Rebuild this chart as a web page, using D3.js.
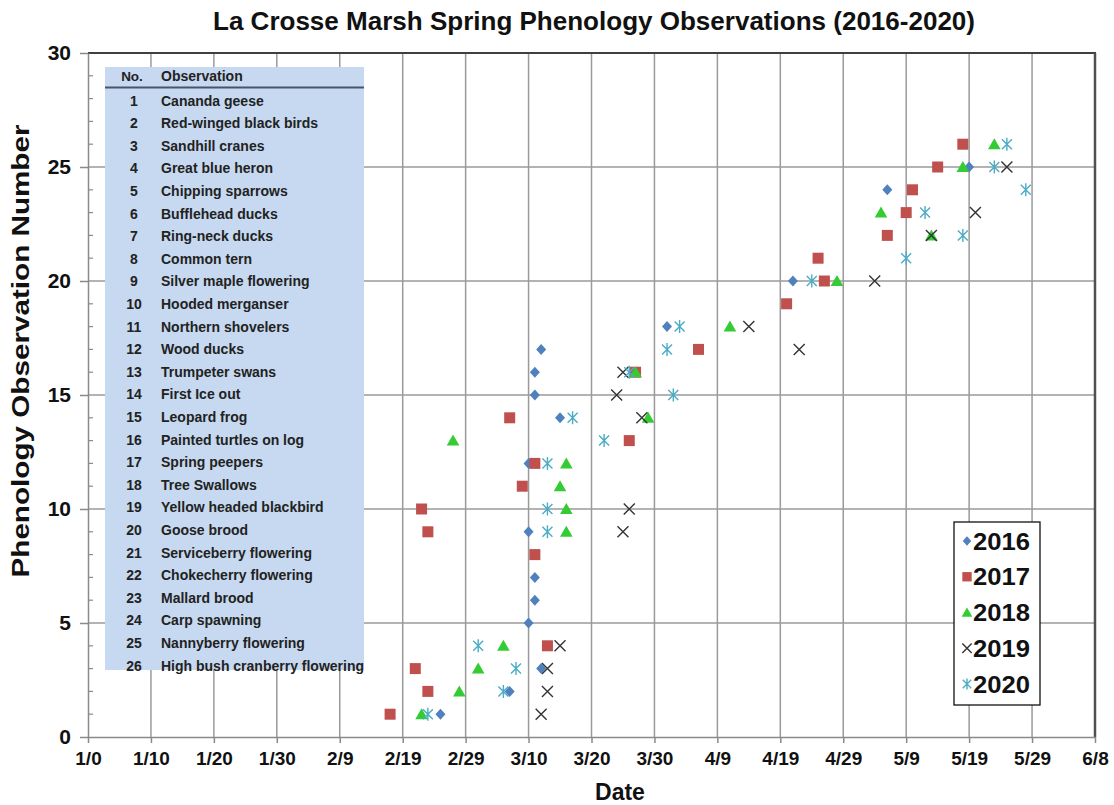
<!DOCTYPE html>
<html>
<head>
<meta charset="utf-8">
<script src="https://cdn.jsdelivr.net/npm/d3@7"></script>
<style>
  html, body { margin: 0; padding: 0; background: #ffffff; }
  svg { display: block; }
  text { font-family: "Liberation Sans", Arial, sans-serif; }
</style>
</head>
<body>
<svg id="chart" width="1114" height="805"></svg>
<script>
// ---------- data ----------
const chartTitle = "La Crosse Marsh Spring Phenology Observations (2016-2020)";
const xTitle = "Date";
const yTitle = "Phenology Observation Number";

const observationNumbers = [1,2,3,4,5,6,7,8,9,10,11,12,13,14,15,16,17,18,19,20,21,22,23,24,25,26];
const observationNames = [
  "Cananda geese", "Red-winged black birds", "Sandhill cranes", "Great blue heron",
  "Chipping sparrows", "Bufflehead ducks", "Ring-neck ducks", "Common tern",
  "Silver maple flowering", "Hooded merganser", "Northern shovelers", "Wood ducks",
  "Trumpeter swans", "First Ice out", "Leopard frog", "Painted turtles on log",
  "Spring peepers", "Tree Swallows", "Yellow headed blackbird", "Goose brood",
  "Serviceberry flowering", "Chokecherry flowering", "Mallard brood", "Carp spawning",
  "Nannyberry flowering", "High bush cranberry flowering"
];

// day of year (1/0 = day 0) for each observation number 1..26 (null = not observed)
const days2016 = [56,67,72,null,70,71,71,null,70,null,null,70,null,75,71,71,72,92,null,112,null,null,null,127,140,null];
const days2017 = [48,54,52,73,null,null,null,71,54,53,69,71,86,67,null,87,97,null,111,117,116,127,130,131,135,139];
const days2018 = [53,59,62,66,null,null,null,null,76,76,75,76,58,89,null,87,null,102,null,119,null,134,126,null,139,144];
const days2019 = [72,73,73,75,null,null,null,null,85,86,null,null,null,88,84,85,113,105,null,125,null,134,141,null,146,null];
const days2020 = [54,66,68,62,null,null,null,null,73,73,null,73,82,77,93,86,92,94,null,115,130,139,133,149,144,146];

const seriesNames = ["2016", "2017", "2018", "2019", "2020"];

const xTickValues = [0,10,20,30,40,50,60,70,80,90,100,110,120,130,140,150,160];
const xTickLabels = ["1/0","1/10","1/20","1/30","2/9","2/19","2/29","3/10","3/20","3/30","4/9","4/19","4/29","5/9","5/19","5/29","6/8"];
const yTickValues = [0,5,10,15,20,25,30];

// ---------- layout / style ----------
const L = 88, R = 1095, T = 53, B = 737;
const colors = { "2016": "#4f81bd", "2017": "#c0504d", "2018": "#33cc33", "2019": "#333333", "2020": "#4bacc6" };
const shapes = { "2016": "diamond", "2017": "square", "2018": "triangle", "2019": "x", "2020": "star" };

const svg = d3.select("#chart");
const x = d3.scaleLinear().domain([0, 160]).range([L, R]);
const y = d3.scaleLinear().domain([0, 30]).range([B, T]);

// gridlines
const grid = svg.append("g");
grid.selectAll("line.v").data(xTickValues.filter(d => d > 0 && d < 160)).join("line")
  .attr("x1", d => x(d)).attr("x2", d => x(d)).attr("y1", T).attr("y2", B)
  .attr("stroke", "#9a9a9a").attr("stroke-width", 1.5);
grid.selectAll("line.h").data(yTickValues.filter(d => d > 0 && d < 30)).join("line")
  .attr("x1", L).attr("x2", R).attr("y1", d => y(d)).attr("y2", d => y(d))
  .attr("stroke", "#9a9a9a").attr("stroke-width", 1.5);

// border top / right
svg.append("line").attr("x1", L).attr("x2", R + 1).attr("y1", T).attr("y2", T).attr("stroke", "#404040").attr("stroke-width", 2);
svg.append("line").attr("x1", R).attr("x2", R).attr("y1", T).attr("y2", B).attr("stroke", "#505050").attr("stroke-width", 2.5);

// x axis
const xAxis = d3.axisBottom(x).tickValues(xTickValues)
  .tickFormat((d, i) => xTickLabels[i]).tickSize(6).tickSizeOuter(0).tickPadding(9);
const gx = svg.append("g").attr("transform", `translate(0,${B})`).call(xAxis);
gx.select(".domain").attr("stroke", "#8a8a8a").attr("stroke-width", 1.5);
gx.selectAll(".tick line").attr("stroke", "#8a8a8a").attr("stroke-width", 1.5);
gx.selectAll(".tick text").attr("font-size", 19).attr("font-weight", "bold").attr("fill", "#111")
  .attr("font-family", "'Liberation Sans', Arial, sans-serif");

// y axis
const yAxis = d3.axisLeft(y).tickValues(yTickValues).tickSize(8).tickSizeOuter(0).tickPadding(9);
const gy = svg.append("g").attr("transform", `translate(${L},0)`).call(yAxis);
gy.select(".domain").attr("stroke", "#8a8a8a").attr("stroke-width", 1.5);
gy.selectAll(".tick line").attr("stroke", "#8a8a8a").attr("stroke-width", 1.5);
gy.selectAll(".tick text").attr("font-size", 21).attr("font-weight", "bold").attr("fill", "#111")
  .attr("font-family", "'Liberation Sans', Arial, sans-serif");
// minor ticks (inside)
svg.append("g").selectAll("line").data(d3.range(1, 30).filter(d => d % 5 !== 0)).join("line")
  .attr("x1", L).attr("x2", L + 5).attr("y1", d => y(d)).attr("y2", d => y(d))
  .attr("stroke", "#8a8a8a").attr("stroke-width", 1.2);

// table of observations
const tbl = svg.append("g");
tbl.append("rect").attr("x", 105).attr("y", 67).attr("width", 259).attr("height", 603).attr("fill", "#c6d9f0");
tbl.append("line").attr("x1", 105).attr("x2", 364).attr("y1", 87.5).attr("y2", 87.5).attr("stroke", "#46566a").attr("stroke-width", 2);
tbl.append("text").attr("x", 132).attr("y", 81).attr("text-anchor", "middle").attr("font-size", 13.5).attr("font-weight", "bold").attr("fill", "#222").text("No.");
tbl.append("text").attr("x", 161).attr("y", 81).attr("font-size", 14).attr("font-weight", "bold").attr("fill", "#222").text("Observation");
const rowY = d3.scaleLinear().domain([1, 26]).range([100.7, 665.5]);
const rows = tbl.selectAll("g.row").data(observationNumbers).join("g");
rows.append("text").attr("x", 134).attr("y", d => rowY(d) + 5).attr("text-anchor", "middle")
  .attr("font-size", 14).attr("font-weight", "bold").attr("fill", "#222").text(d => d);
rows.append("text").attr("x", 161).attr("y", d => rowY(d) + 5)
  .attr("font-size", 14).attr("font-weight", "bold").attr("fill", "#222").text((d, i) => observationNames[i]);

// marker drawer
function drawMarker(g, shape, color, s) {
  if (shape === "diamond") {
    g.append("path").attr("d", `M0,${-5.5*s}L${5*s},0L0,${5.5*s}L${-5*s},0Z`).attr("fill", color);
  } else if (shape === "square") {
    g.append("rect").attr("x", -5.5*s).attr("y", -5.5*s).attr("width", 11*s).attr("height", 11*s).attr("fill", color);
  } else if (shape === "triangle") {
    g.append("path").attr("d", `M0,${-6*s}L${6.3*s},${5*s}L${-6.3*s},${5*s}Z`).attr("fill", color);
  } else if (shape === "x") {
    const h = 5.5*s;
    g.append("path").attr("d", `M${-h},${-h}L${h},${h}M${-h},${h}L${h},${-h}`).attr("stroke", color).attr("stroke-width", 1.4).attr("fill", "none");
  } else if (shape === "star") {
    const h = 5*s, v = 6.5*s;
    g.append("path").attr("d", `M${-h},${-h}L${h},${h}M${-h},${h}L${h},${-h}M0,${-v}L0,${v}`).attr("stroke", color).attr("stroke-width", 1.4).attr("fill", "none");
  }
}

// series
const allDays = { "2016": days2016, "2017": days2017, "2018": days2018, "2019": days2019, "2020": days2020 };
seriesNames.forEach(name => {
  const pts = observationNumbers.map((n, i) => ({ n, day: allDays[name][i] })).filter(p => p.day !== null);
  const g = svg.append("g");
  g.selectAll("g").data(pts).join("g")
    .attr("transform", p => `translate(${x(p.day)},${y(p.n)})`)
    .each(function () { drawMarker(d3.select(this), shapes[name], colors[name], 1); });
});

// legend
const lg = svg.append("g");
lg.append("rect").attr("x", 954).attr("y", 522).attr("width", 86).attr("height", 183)
  .attr("fill", "#fff").attr("stroke", "#111").attr("stroke-width", 1.3);
const legY = d3.scaleLinear().domain([0, 4]).range([541, 684]);
seriesNames.forEach((name, i) => {
  const mg = lg.append("g").attr("transform", `translate(967,${legY(i)})`);
  drawMarker(mg, shapes[name], colors[name], 0.85);
  lg.append("text").attr("x", 973).attr("y", legY(i) + 8.5).attr("font-size", 24).attr("font-weight", "bold")
    .attr("fill", "#111").attr("textLength", 57).attr("lengthAdjust", "spacingAndGlyphs").text(name);
});

// titles
svg.append("text").attr("x", 594).attr("y", 30).attr("text-anchor", "middle")
  .attr("font-family", "Lato, 'Open Sans', sans-serif").attr("font-size", 26).attr("font-weight", "bold")
  .attr("fill", "#111").attr("textLength", 762).attr("lengthAdjust", "spacingAndGlyphs").text(chartTitle);
svg.append("text").attr("x", 620).attr("y", 800).attr("text-anchor", "middle")
  .attr("font-size", 23).attr("font-weight", "bold").attr("fill", "#111").text(xTitle);
svg.append("text").attr("transform", "translate(29,351) rotate(-90)").attr("text-anchor", "middle")
  .attr("font-size", 23).attr("font-weight", "bold").attr("fill", "#111")
  .attr("textLength", 453).attr("lengthAdjust", "spacingAndGlyphs").text(yTitle);
</script>
</body>
</html>
